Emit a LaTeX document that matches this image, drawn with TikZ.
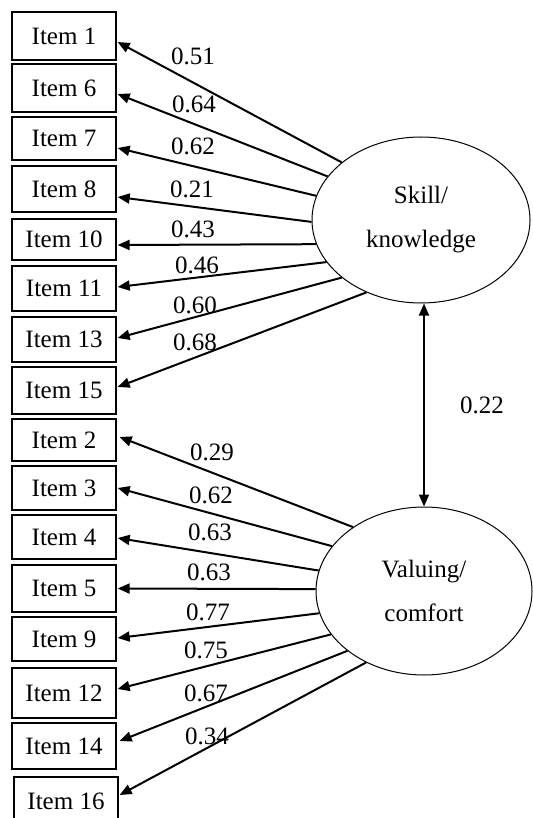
\documentclass[tikz,border=0pt]{standalone}
\usepackage{fontspec}
\setmainfont{Liberation Serif}
\usetikzlibrary{arrows.meta,shapes.geometric}
\begin{document}
\begin{tikzpicture}[x=1pt,y=-1pt,
  box/.style={draw,line width=1.3pt,minimum width=104pt,inner sep=0pt,font=\fontsize{25}{30}\selectfont},
  lat/.style={draw,ellipse,line width=1pt,inner sep=0pt,align=center,font=\fontsize{25}{44}\selectfont},
  lbl/.style={font=\fontsize{25}{30}\selectfont,inner sep=0pt},
  ld/.style={line width=2pt,-{Triangle[length=12pt,width=10pt]}},
  dl/.style={line width=1.8pt,{Triangle[length=12pt,width=10pt]}-{Triangle[length=12pt,width=10pt]}}
]
\useasboundingbox (0,0) rectangle (532,818);
\fill[white] (0,0) rectangle (532,818);

% observed items
\node[box,minimum height=48pt] (i1)  at (64,36)    {Item 1};
\node[box,minimum height=48pt] (i6)  at (64,88)    {Item 6};
\node[box,minimum height=43pt] (i7)  at (64,138.5) {Item 7};
\node[box,minimum height=46pt] (i8)  at (64,189)   {Item 8};
\node[box,minimum height=41pt] (i10) at (64,239.5) {Item 10};
\node[box,minimum height=45pt] (i11) at (64,288.5) {Item 11};
\node[box,minimum height=45pt] (i13) at (64,339.5) {Item 13};
\node[box,minimum height=47pt] (i15) at (64,390.5) {Item 15};
\node[box,minimum height=42pt] (i2)  at (64,440)   {Item 2};
\node[box,minimum height=44pt] (i3)  at (64,488)   {Item 3};
\node[box,minimum height=44pt] (i4)  at (64,537)   {Item 4};
\node[box,minimum height=47pt] (i5)  at (64,588.5) {Item 5};
\node[box,minimum height=44pt] (i9)  at (64,639)   {Item 9};
\node[box,minimum height=50pt] (i12) at (64,693)   {Item 12};
\node[box,minimum height=46pt] (i14) at (64,746)   {Item 14};
\node[box,minimum height=48pt] (i16) at (66,801)   {Item 16};

% latent factors
\node[lat,minimum width=218pt,minimum height=166pt] (sk) at (421,220) {Skill/\\knowledge};
\node[lat,minimum width=216pt,minimum height=168pt] (vc) at (424,591) {Valuing/\\comfort};

% loadings, Skill/knowledge
\draw[ld] (sk.144.6) -- ([xshift=1pt,yshift=-6pt]i1.east);
\draw[ld] (sk.155.9) -- ([xshift=1pt,yshift=-6pt]i6.east);
\draw[ld] (sk.167.8) -- ([xshift=1pt,yshift=-9.5pt]i7.east);
\draw[ld] (sk.181)   -- ([xshift=1pt,yshift=-8pt]i8.east);
\draw[ld] (sk.193)   -- ([xshift=1pt,yshift=-5.5pt]i10.east);
\draw[ld] (sk.204.1) -- ([xshift=1pt,yshift=1.5pt]i11.east);
\draw[ld] (sk.216.5) -- ([xshift=1pt,yshift=1.5pt]i13.east);
\draw[ld] (sk.233.5) -- ([xshift=1pt,yshift=3.5pt]i15.east);

% loadings, Valuing/comfort
\draw[ld] (vc.138.8) -- ([xshift=3pt,yshift=3pt]i2.east);
\draw[ld] (vc.154.2) -- ([xshift=1pt]i3.east);
\draw[ld] (vc.169)   -- ([xshift=1pt,yshift=-1pt]i4.east);
\draw[ld] (vc.179)   -- ([xshift=1pt]i5.east);
\draw[ld] (vc.192.4) -- ([xshift=1pt,yshift=1pt]i9.east);
\draw[ld] (vc.205.6) -- ([xshift=1pt,yshift=4pt]i12.east);
\draw[ld] (vc.218.4) -- ([xshift=3pt,yshift=5pt]i14.east);
\draw[ld] (vc.231.6) -- ([xshift=1pt,yshift=6pt]i16.east);

% correlation
\draw[dl] (sk.south -| vc.north) -- (vc.north);
\node[lbl] (r) at (482,405) {0.22};

% loading labels
\node[lbl] (l1)  at (193,56)  {0.51};
\node[lbl] (l6)  at (194,104) {0.64};
\node[lbl] (l7)  at (193,146) {0.62};
\node[lbl] (l8)  at (192,189) {0.21};
\node[lbl] (l10) at (193,229) {0.43};
\node[lbl] (l11) at (197,265) {0.46};
\node[lbl] (l13) at (195,305) {0.60};
\node[lbl] (l15) at (195,342) {0.68};
\node[lbl] (l2)  at (212,452) {0.29};
\node[lbl] (l3)  at (211,495) {0.62};
\node[lbl] (l4)  at (210,532) {0.63};
\node[lbl] (l5)  at (209,572) {0.63};
\node[lbl] (l9)  at (208,612) {0.77};
\node[lbl] (l12) at (206,650) {0.75};
\node[lbl] (l14) at (206,693) {0.67};
\node[lbl] (l16) at (207,736) {0.34};
\end{tikzpicture}
\end{document}
